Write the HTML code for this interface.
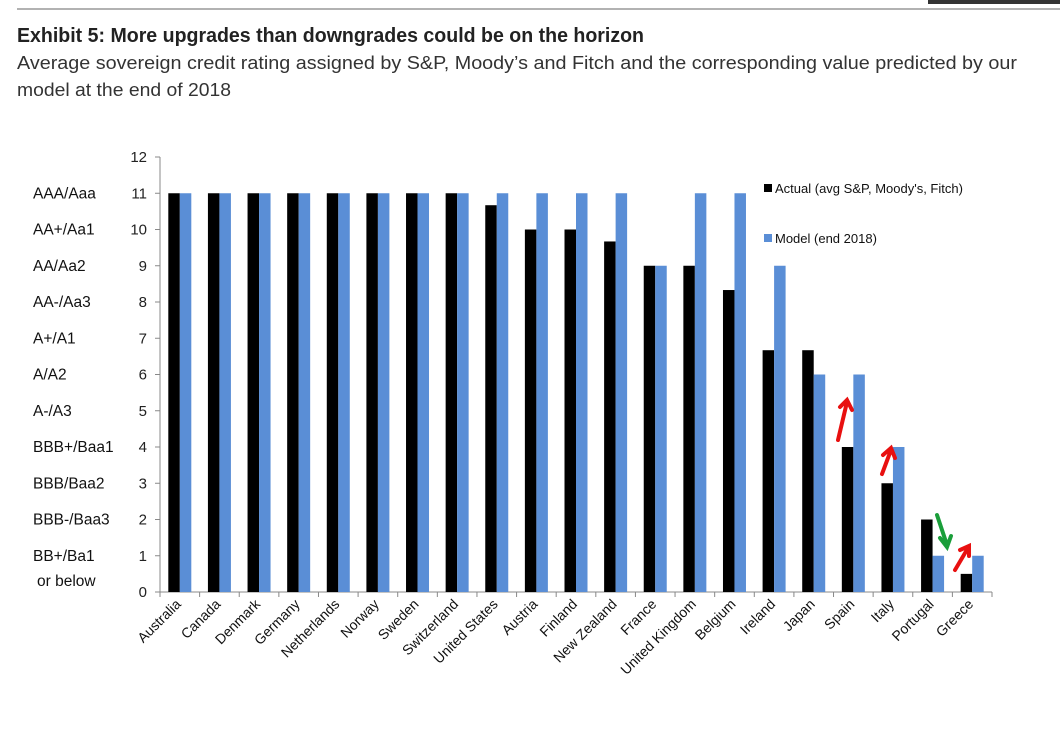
<!DOCTYPE html>
<html><head><meta charset="utf-8"><style>
body{margin:0;background:#fff;width:1060px;height:734px;overflow:hidden;font-family:"Liberation Sans",Arial,sans-serif}
</style></head><body>
<svg width="1060" height="734">
<rect x="928" y="0" width="132" height="4" fill="#333"/>
<line x1="17" y1="9" x2="1060" y2="9" stroke="#666" stroke-width="1"/>
<text x="17" y="42" font-size="20" font-weight="bold" fill="#222" textLength="627" lengthAdjust="spacingAndGlyphs">Exhibit 5: More upgrades than downgrades could be on the horizon</text>
<text x="17" y="69" font-size="18" fill="#333" textLength="1000" lengthAdjust="spacingAndGlyphs">Average sovereign credit rating assigned by S&amp;P, Moody’s and Fitch and the corresponding value predicted by our</text>
<text x="17" y="96" font-size="18" fill="#333" textLength="214" lengthAdjust="spacingAndGlyphs">model at the end of 2018</text>
<g id="plot"></g>
<rect x="764" y="184" width="8" height="8" fill="#000"/>
<text x="775" y="193" font-size="13" fill="#111">Actual (avg S&amp;P, Moody's, Fitch)</text>
<rect x="764" y="234" width="8" height="8" fill="#5a8ed6"/>
<text x="775" y="243" font-size="13" fill="#111">Model (end 2018)</text>
<g stroke-width="4" fill="none" stroke-linecap="round">
<path d="M838 440 L847 402 M840 407 L847 400 L852 410" stroke="#e81010"/>
<path d="M882 474 L891 450 M883 455 L891 448 L895 458" stroke="#e81010"/>
<path d="M937 515 L947 545 M940 538 L947 547 L951 536" stroke="#1a9e3a"/>
<path d="M955 570 L968 548 M960 550 L969 546 L969 556" stroke="#e81010"/>
</g>
</svg>
<script>
const categories=["Australia","Canada","Denmark","Germany","Netherlands","Norway","Sweden","Switzerland","United States","Austria","Finland","New Zealand","France","United Kingdom","Belgium","Ireland","Japan","Spain","Italy","Portugal","Greece"];
const actual=[11,11,11,11,11,11,11,11,10.67,10,10,9.67,9,9,8.33,6.67,6.67,4,3,2,0.5];
const model=[11,11,11,11,11,11,11,11,11,11,11,11,9,11,11,9,6,6,4,1,1];
const yTicks=[0,1,2,3,4,5,6,7,8,9,10,11,12];
const ratingLabels=[["AAA/Aaa",11],["AA+/Aa1",10],["AA/Aa2",9],["AA-/Aa3",8],["A+/A1",7],["A/A2",6],["A-/A3",5],["BBB+/Baa1",4],["BBB/Baa2",3],["BBB-/Baa3",2],["BB+/Ba1",1]];
const NS="http://www.w3.org/2000/svg";
const g=document.getElementById('plot');
const x0=160,x1=992,y0=592,yTop=157;
const y=v=>y0-(y0-yTop)*v/12;
const band=(x1-x0)/categories.length;
const bw=11.5;
function mk(t,a){const e=document.createElementNS(NS,t);for(const k in a)e.setAttribute(k,a[k]);g.appendChild(e);return e;}
let e=mk('line',{x1:x0,y1:yTop,x2:x0,y2:y0,stroke:'#888'});


e=mk('line',{x1:x0,y1:y0,x2:x1,y2:y0,stroke:'#888'});


yTicks.forEach(v=>{
 let t=mk('line',{x1:x0-5,y1:y(v),x2:x0,y2:y(v),stroke:'#888'});
 
 
 let l=mk('text',{x:x0-13,y:y(v)+5,'font-size':15,'text-anchor':'end',fill:'#222'});
 l.textContent=v;
 
 
});
ratingLabels.forEach(([s,v])=>{
 let l=mk('text',{x:33,y:y(v)+5,'font-size':15.5,fill:'#111'});
 l.textContent=s;
 
 
});
e=mk('text',{x:37,y:586,'font-size':15.5,fill:'#111'});
e.textContent='or below';


for(let i=0;i<=categories.length;i++){
 let t=mk('line',{x1:x0+band*i,y1:y0,x2:x0+band*i,y2:y0+5,stroke:'#888'});
 
 
}
categories.forEach((c,i)=>{
 const cx=x0+band*(i+0.5);
 let a=mk('rect',{x:cx-bw,y:y(actual[i]),width:bw,height:y0-y(actual[i]),fill:'#000'});
 
 
 let m=mk('rect',{x:cx,y:y(model[i]),width:bw,height:y0-y(model[i]),fill:'#5a8ed6'});
 
 
 let l=mk('text',{x:cx+2,y:y0+13,'font-size':14,'text-anchor':'end',fill:'#111',transform:`rotate(-45 ${cx+2} ${y0+13})`});
 l.textContent=c;
 
 
});
</script>
</body></html>
